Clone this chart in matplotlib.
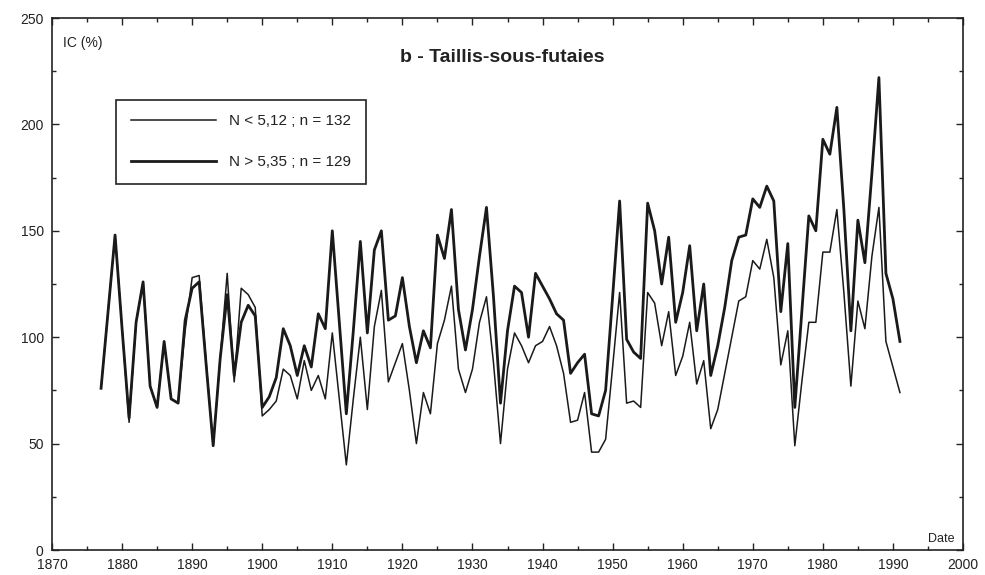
import numpy as np
import matplotlib
matplotlib.use("Agg")
import matplotlib.pyplot as plt
from matplotlib.ticker import MultipleLocator

#****************************** DATA ******************************
years = list(range(1877, 1992))

# N < 5,12 ; n = 132  (thin line)
ic_low = [
    76, 112, 148, 104, 60, 107, 126, 77, 67, 98,          # 1877-1886
    71, 69, 103, 128, 129, 88, 49, 90, 130, 79,           # 1887-1896
    123, 120, 114, 63, 66, 70, 85, 82, 71, 89,            # 1897-1906
    75, 82, 71, 102, 71, 40, 71, 100, 66, 105,            # 1907-1916
    122, 79, 88, 97, 75, 50, 74, 64, 97, 108,             # 1917-1926
    124, 85, 74, 85, 107, 119, 88, 50, 85, 102,           # 1927-1936
    96, 88, 96, 98, 105, 96, 83, 60, 61, 74,              # 1937-1946
    46, 46, 52, 86, 121, 69, 70, 67, 121, 116,            # 1947-1956
    96, 112, 82, 91, 107, 78, 89, 57, 66, 83,             # 1957-1966
    100, 117, 119, 136, 132, 146, 128, 87, 103, 49,       # 1967-1976
    79, 107, 107, 140, 140, 160, 121, 77, 117, 104,       # 1977-1986
    138, 161, 98, 86, 74,                                 # 1987-1991
]

# N > 5,35 ; n = 129  (thick line)
ic_high = [
    76, 112, 148, 104, 62, 107, 126, 77, 67, 98,
    71, 69, 108, 123, 126, 87, 49, 90, 120, 82,
    107, 115, 110, 67, 72, 81, 104, 96, 82, 96,
    86, 111, 104, 150, 107, 64, 103, 145, 102, 141,
    150, 108, 110, 128, 105, 88, 103, 95, 148, 137,
    160, 113, 94, 113, 138, 161, 119, 69, 103, 124,
    121, 100, 130, 124, 118, 111, 108, 83, 88, 92,
    64, 63, 75, 119, 164, 99, 93, 90, 163, 150,
    125, 147, 107, 121, 143, 103, 125, 82, 96, 114,
    136, 147, 148, 165, 161, 171, 164, 112, 144, 67,
    112, 157, 150, 193, 186, 208, 160, 103, 155, 135,
    177, 222, 130, 118, 98,
]

labels = ["N < 5,12 ; n = 132", "N > 5,35 ; n = 129"]
title = "b - Taillis-sous-futaies"
#****************************************************************************************

narrow = ["Liberation Sans Narrow", "Liberation Sans", "DejaVu Sans"]
plt.rcParams["font.family"] = ["Liberation Sans", "DejaVu Sans"]

fig = plt.figure(figsize=(9.85, 5.75), dpi=100)
ax = fig.add_axes([52 / 985, 25 / 575, 911 / 985, 532 / 575])

ax.plot(years, ic_low, color="#1a1a1a", linewidth=1.1, label=labels[0])
ax.plot(years, ic_high, color="#1a1a1a", linewidth=2.0, label=labels[1])

ax.set_xlim(1870, 2000)
ax.set_ylim(0, 250)

ax.xaxis.set_major_locator(MultipleLocator(10))
ax.xaxis.set_minor_locator(MultipleLocator(5))
ax.yaxis.set_major_locator(MultipleLocator(50))
ax.yaxis.set_minor_locator(MultipleLocator(25))
ax.tick_params(which="both", direction="in", top=True, right=True, width=1.0, color="#222222")
ax.tick_params(which="major", length=5, labelsize=10, pad=6)
ax.tick_params(which="minor", length=3)
for lab in ax.get_xticklabels() + ax.get_yticklabels():
    lab.set_family(narrow)
    lab.set_color("#222222")

for sp in ax.spines.values():
    sp.set_linewidth(1.2)
    sp.set_color("#222222")

ax.text(0.012, 0.953, "IC (%)", transform=ax.transAxes, fontsize=10, family=narrow,
        ha="left", va="center", color="#222222")
ax.text(0.991, 0.02, "Date", transform=ax.transAxes, fontsize=9, family=narrow,
        ha="right", va="center", color="#222222")
ax.text(0.494, 0.925, title, transform=ax.transAxes, fontsize=14, fontweight="bold",
        ha="center", va="center", color="#222222")

leg = ax.legend(loc="upper left", bbox_to_anchor=(0.0703, 0.846), fontsize=11,
                handlelength=5.6, handletextpad=0.85, labelspacing=1.75, borderpad=0.95,
                borderaxespad=0.0, fancybox=False, framealpha=1.0)
leg.get_frame().set_edgecolor("#222222")
leg.get_frame().set_linewidth(1.2)
for t in leg.get_texts():
    t.set_color("#222222")

fig.savefig("out.png", dpi=100)
